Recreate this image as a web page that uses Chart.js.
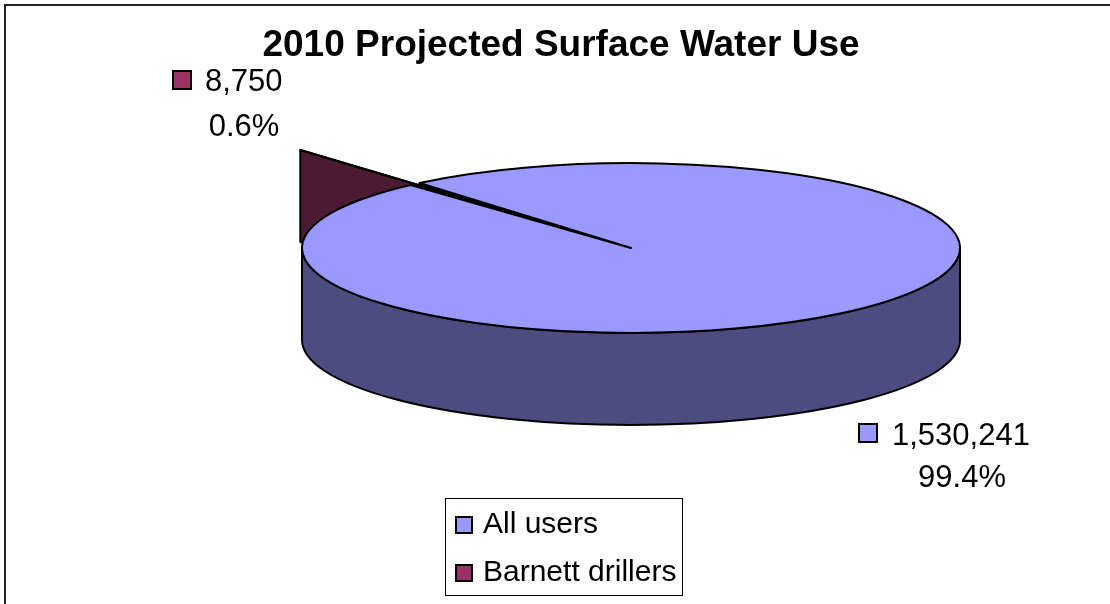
<!DOCTYPE html>
<html>
<head>
<meta charset="utf-8">
<title>2010 Projected Surface Water Use</title>
<script src="https://cdn.jsdelivr.net/npm/chart.js@4.4.1/dist/chart.umd.min.js"></script>
<style>
  html, body { margin: 0; padding: 0; background: #ffffff; }
  #wrap { width: 1110px; height: 604px; position: relative; }
  canvas { display: block; }
</style>
</head>
<body>
<div id="wrap"><canvas id="chart" width="1110" height="604"></canvas></div>
<script>
// ---- data ----
const chartTitle = '2010 Projected Surface Water Use';
const categories = ['All users', 'Barnett drillers'];
const volumes = [1530241, 8750];
const explode = [0, 356];            // slice pull-out (Chart.js arc offset)

// ---- styling ----
const topColors  = ['#9999FF', '#993366'];
const sideColors = ['#4C4C80', '#4D1A33'];
const FONT = '"Liberation Sans", Arial, Helvetica, sans-serif';
const TILT = 0.258;     // vertical squash of the disc
const DEPTH = 92;       // thickness of the disc in pixels
const RADIUS = 329;

// where the value labels and the legend sit
const labelSpots = [
  { key: [859, 424], text: [892, 445], second: [962, 487] },
  { key: [173, 71],  text: [205, 91],  second: [244, 136] }
];
const legendBox = { x: 445.5, y: 498.5, w: 237, h: 97, keyX: 456, textX: 483, firstBase: 533, rowGap: 48 };

const total = volumes.reduce((s, v) => s + v, 0);
const fmtValue = v => v.toLocaleString('en-US');
const fmtShare = v => (v / total * 100).toFixed(1) + '%';

// geometry of one arc as Chart.js paints it, projected onto the tilted disc
function arcGeom(arc, pivotY) {
  const p = arc.getProps(['x', 'y', 'startAngle', 'endAngle', 'outerRadius', 'circumference'], true);
  // an offset arc is moved out by offset/4 and its radius grows by offset/4 * (1 - sin(circumference))
  const off = (arc.options.offset || 0) / 4;
  const fix = 1 - Math.sin(Math.min(Math.PI, p.circumference || 0));
  const rOff = off * fix;
  const mid = (p.startAngle + p.endAngle) / 2;
  const outR = p.outerRadius + rOff;
  const alpha = p.endAngle - p.startAngle;
  const beta = Math.max(0.001, alpha * outR - rOff / Math.PI) / outR;
  const trim = (alpha - beta) / 2;
  const cx = p.x + Math.cos(mid) * off;
  const cy = p.y + Math.sin(mid) * off;
  return {
    x: cx,
    y: pivotY + (cy - pivotY) * TILT,
    r: outR,
    ry: outR * TILT,
    a0: p.startAngle + trim,
    a1: p.endAngle - trim,
    full: p.circumference >= Math.PI * 2 - 1e-6
  };
}

function radialFace(ctx, g, a) {
  const px = g.x + g.r * Math.cos(a);
  const py = g.y + g.ry * Math.sin(a);
  ctx.beginPath();
  ctx.moveTo(g.x, g.y);
  ctx.lineTo(px, py);
  ctx.lineTo(px, py + DEPTH);
  ctx.lineTo(g.x, g.y + DEPTH);
  ctx.closePath();
  ctx.fill();
  ctx.stroke();
}

function outerWall(ctx, g) {
  const TAU = Math.PI * 2;
  for (let n = -2; n <= 2; n++) {
    const lo = Math.max(g.a0, TAU * n);
    const hi = Math.min(g.a1, TAU * n + Math.PI);
    if (hi <= lo) continue;
    ctx.beginPath();
    ctx.ellipse(g.x, g.y, g.r, g.ry, 0, lo, hi, false);
    ctx.ellipse(g.x, g.y + DEPTH, g.r, g.ry, 0, hi, lo, true);
    ctx.closePath();
    ctx.fill();
    ctx.stroke();
  }
}

function pieGeoms(chart) {
  const area = chart.chartArea;
  const pivotY = (area.top + area.bottom) / 2;
  return { pivotY, geoms: chart.getDatasetMeta(0).data.map(a => arcGeom(a, pivotY)) };
}

const disc3d = {
  id: 'disc3d',
  beforeDatasetsDraw(chart) {
    const ctx = chart.ctx;
    const { pivotY, geoms } = pieGeoms(chart);
    ctx.save();
    ctx.lineWidth = 2;
    ctx.strokeStyle = '#000';
    ctx.lineJoin = 'round';
    // cut faces of the slices (behind the walls)
    geoms.forEach((g, i) => {
      if (g.full) return;
      ctx.fillStyle = sideColors[i];
      if (Math.cos(g.a0) < 0) radialFace(ctx, g, g.a0);
      if (Math.cos(g.a1) > 0) radialFace(ctx, g, g.a1);
    });
    // front rim walls
    geoms.forEach((g, i) => {
      ctx.fillStyle = sideColors[i];
      outerWall(ctx, g);
    });
    ctx.restore();
    // squash the pie top into an ellipse
    ctx.save();
    ctx.translate(0, pivotY);
    ctx.scale(1, TILT);
    ctx.translate(0, -pivotY);
  },
  afterDatasetsDraw(chart) {
    const ctx = chart.ctx;
    ctx.restore();
    const { geoms } = pieGeoms(chart);
    ctx.save();
    ctx.lineWidth = 2;
    ctx.strokeStyle = '#000';
    ctx.lineJoin = 'round';
    geoms.forEach(g => {
      ctx.beginPath();
      if (g.full) {
        ctx.ellipse(g.x, g.y, g.r, g.ry, 0, 0, Math.PI * 2);
      } else {
        ctx.moveTo(g.x, g.y);
        ctx.lineTo(g.x + g.r * Math.cos(g.a0), g.y + g.ry * Math.sin(g.a0));
        ctx.ellipse(g.x, g.y, g.r, g.ry, 0, g.a0, g.a1, false);
        ctx.closePath();
      }
      ctx.stroke();
    });
    ctx.restore();
  },
  afterDraw(chart) {
    const ctx = chart.ctx;
    ctx.save();

    // frame
    ctx.strokeStyle = '#222';
    ctx.lineWidth = 2;
    ctx.strokeRect(5, 5, 1300, 800);

    // title
    ctx.fillStyle = '#000';
    ctx.font = 'bold 37px ' + FONT;
    ctx.textAlign = 'center';
    ctx.textBaseline = 'alphabetic';
    ctx.fillText(chartTitle, 561, 56);

    // value labels
    ctx.font = '31px ' + FONT;
    volumes.forEach((v, i) => {
      const s = labelSpots[i];
      ctx.fillStyle = topColors[i];
      ctx.fillRect(s.key[0], s.key[1], 18, 18);
      ctx.lineWidth = 2;
      ctx.strokeStyle = '#000';
      ctx.strokeRect(s.key[0], s.key[1], 18, 18);
      ctx.fillStyle = '#000';
      ctx.textAlign = 'left';
      ctx.fillText(fmtValue(v), s.text[0], s.text[1]);
      ctx.textAlign = 'center';
      ctx.fillText(fmtShare(v), s.second[0], s.second[1]);
    });

    // legend
    const L = legendBox;
    ctx.lineWidth = 1;
    ctx.strokeStyle = '#000';
    ctx.strokeRect(L.x, L.y, L.w, L.h);
    ctx.font = '30px ' + FONT;
    ctx.textAlign = 'left';
    categories.forEach((name, i) => {
      const base = L.firstBase + i * L.rowGap;
      ctx.fillStyle = topColors[i];
      ctx.fillRect(L.keyX, base - 16, 16, 16);
      ctx.lineWidth = 2;
      ctx.strokeRect(L.keyX, base - 16, 16, 16);
      ctx.fillStyle = '#000';
      ctx.fillText(name, L.textX, base);
    });

    ctx.restore();
  }
};

new Chart(document.getElementById('chart').getContext('2d'), {
  type: 'pie',
  data: {
    labels: categories,
    datasets: [{
      data: volumes,
      backgroundColor: topColors,
      borderWidth: 0,
      offset: explode,
      radius: RADIUS,
      rotation: -40,
      clip: false
    }]
  },
  options: {
    responsive: false,
    animation: false,
    devicePixelRatio: 1,
    events: [],
    layout: { padding: { left: 152, right: 0, top: 0, bottom: 108 } },
    plugins: {
      legend: { display: false },
      title: { display: false },
      tooltip: { enabled: false }
    }
  },
  plugins: [disc3d]
});
</script>
</body>
</html>
